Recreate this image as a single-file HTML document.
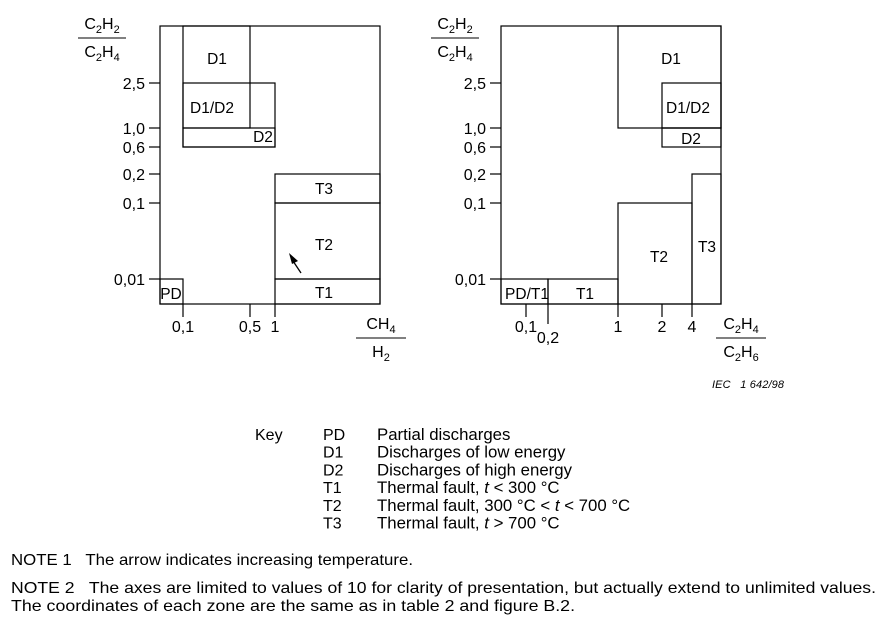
<!DOCTYPE html>
<html><head><meta charset="utf-8"><style>
body{margin:0;background:#fff;}
svg text{font-family:"Liberation Sans",sans-serif;fill:#000;white-space:pre;}
</style></head><body>
<svg id="fig" width="882" height="618" viewBox="0 0 882 618" xmlns="http://www.w3.org/2000/svg" xml:space="preserve"></svg>
<script>
// ---- data ----
const yTickValues = [2.5, 1.0, 0.6, 0.2, 0.1, 0.01];
const yTickLabels = ["2,5", "1,0", "0,6", "0,2", "0,1", "0,01"];
const leftXTickValues = [0.1, 0.5, 1];
const leftXTickLabels = ["0,1", "0,5", "1"];
const rightXTickValues = [0.1, 0.2, 1, 2, 4];
const rightXTickLabels = ["0,1", "0,2", "1", "2", "4"];
// zones: [x0, x1, y0, y1] in ratio units (0 = axis min, 10 = axis max)
const leftZoneNames = ["D1", "D1/D2", "D2", "T3", "T2", "T1", "PD"];
const leftZones = [[0.1,0.5,1.0,10],[0.1,1,0.6,2.5],[0.1,1,0.6,1.0],[1,10,0.1,0.2],[1,10,0.01,0.1],[1,10,0,0.01],[0,0.1,0,0.01]];
const rightZoneNames = ["D1", "D1/D2", "D2", "T3", "T2", "T1", "PD/T1"];
const rightZones = [[1,10,1.0,10],[2,10,1.0,2.5],[2,10,0.6,1.0],[4,10,0,0.2],[1,4,0,0.1],[0.2,1,0,0.01],[0,0.2,0,0.01]];

// ---- axis functions (piecewise mapping through ticks) ----
const yKnots=[[0,304],[0.01,279],[0.1,203],[0.2,174],[0.6,147],[1.0,128],[2.5,83],[10,26]];
function interp(k,v){for(let i=0;i<k.length-1;i++){if(v<=k[i+1][0]){const t=(v-k[i][0])/(k[i+1][0]-k[i][0]);return k[i][1]+t*(k[i+1][1]-k[i][1]);}}return k[k.length-1][1];}
const yS=v=>interp(yKnots,v);
const lxKnots=[[0,160],[0.1,183],[0.5,250],[1,275],[10,380]];
const rxKnots=[[0,501],[0.1,526],[0.2,548],[1,618],[2,662],[4,692],[10,721]];
const lxS=v=>interp(lxKnots,v), rxS=v=>interp(rxKnots,v);

const svg=document.getElementById('fig');
const NS="http://www.w3.org/2000/svg";
const FS=15.5;
function mk(tag,attrs,parent){const e=document.createElementNS(NS,tag);for(const k in attrs)e.setAttribute(k,attrs[k]);(parent||svg).appendChild(e);return e;}
function txt(x,y,s,size,parent,anchor){const t=mk('text',{x:x,y:y,'font-size':size||FS,'text-anchor':anchor||'middle'},parent);t.textContent=s;return t;}
function frac(x,y,top,bot,w,parent){
  const g=mk('g',{},parent);
  
  
  const a=mk('text',{x:x,y:y,'font-size':16,'text-anchor':'middle'},g);a.innerHTML=top;
  mk('line',{x1:x-w/2,x2:x+w/2,y1:y+9,y2:y+9,stroke:'#000','stroke-width':1},g);
  const b=mk('text',{x:x,y:y+28,'font-size':16,'text-anchor':'middle'},g);b.innerHTML=bot;
}
function chart(name,xS,xv,xl,zones,names,labelPos,xTitleTop,xTitleBot,xTitleX,yTitleX,longTick){
  const g=mk('g',{});
  
  
  const L=xS(0),R=xS(10),T=yS(10),B=yS(0);
  mk('rect',{x:L,y:T,width:R-L,height:B-T,fill:'none',stroke:'#000','stroke-width':1.2},g);
  yTickValues.forEach((v,i)=>{const y=yS(v);
    mk('line',{x1:L-11,x2:L,y1:y,y2:y,stroke:'#000','stroke-width':1.2},g);
    const t=txt(L-15,y+6,yTickLabels[i],16,g,'end');
    
    
  });
  xv.forEach((v,i)=>{const x=xS(v);const long=(longTick===i);
    mk('line',{x1:x,x2:x,y1:B,y2:B+(long?20:13),stroke:'#000','stroke-width':1.2},g);
    const t=txt(x,long?B+39:B+28,xl[i],16,g);
    
    
  });
  zones.forEach((z,i)=>{
    const r=mk('rect',{x:xS(z[0]),y:yS(z[3]),width:xS(z[1])-xS(z[0]),height:yS(z[2])-yS(z[3]),fill:'none',stroke:'#000','stroke-width':1.2},g);
    
    
    const p=labelPos[i];
    const t=txt(p[0],p[1],names[i],FS,g);
    
    
  });
  frac(yTitleX,29,'C<tspan font-size="11" dy="4">2</tspan><tspan dy="-4">H</tspan><tspan font-size="11" dy="4">2</tspan>','C<tspan font-size="11" dy="4">2</tspan><tspan dy="-4">H</tspan><tspan font-size="11" dy="4">4</tspan>',48,g);
  frac(xTitleX,329,xTitleTop,xTitleBot,50,g);
}
chart('left-chart',lxS,leftXTickValues,leftXTickLabels,leftZones,leftZoneNames,
  [[217,64],[212,113],[263,142],[324,194],[324,250],[324,298],[171,299]],
  'CH<tspan font-size="11" dy="4">4</tspan>','H<tspan font-size="11" dy="4">2</tspan>',381,102,-1);
chart('right-chart',rxS,rightXTickValues,rightXTickLabels,rightZones,rightZoneNames,
  [[671,64],[688,113],[691,144],[707,252],[659,262],[585,299],[527,299]],
  'C<tspan font-size="11" dy="4">2</tspan><tspan dy="-4">H</tspan><tspan font-size="11" dy="4">4</tspan>','C<tspan font-size="11" dy="4">2</tspan><tspan dy="-4">H</tspan><tspan font-size="11" dy="4">6</tspan>',741,455,1);

// arrow
const ar=mk('g',{});


mk('line',{x1:301,y1:273,x2:293,y2:261,stroke:'#000','stroke-width':1.3},ar);
mk('polygon',{points:'289,253 298,261 292,264',fill:'#000'},ar);

const iec=mk('text',{x:712,y:388,'font-size':11,textLength:72,lengthAdjust:'spacing','font-style':'italic'});
iec.textContent='IEC   1 642/98';



// key
const keyCodes=["PD","D1","D2","T1","T2","T3"];
const keyDesc=["Partial discharges","Discharges of low energy","Discharges of high energy",
 'Thermal fault, <tspan font-style="italic">t</tspan> &lt; 300 °C',
 'Thermal fault, 300 °C &lt; <tspan font-style="italic">t</tspan> &lt; 700 °C',
 'Thermal fault, <tspan font-style="italic">t</tspan> &gt; 700 °C'];
const kg=mk('g',{});


txt(255,440,'Key',16,kg,'start');
keyCodes.forEach((c,i)=>{const y=440+i*17.7;
  const a=txt(323,y,c,16,kg,'start');
  
  
  const b=mk('text',{x:377,y:y,'font-size':16.8},kg);b.innerHTML=keyDesc[i];
  
  
});
const n1=mk('text',{x:11,y:565,'font-size':16,textLength:402,lengthAdjust:'spacingAndGlyphs'});
n1.textContent='NOTE 1   The arrow indicates increasing temperature.';


const n2=mk('text',{x:11,y:593,'font-size':16,textLength:865,lengthAdjust:'spacingAndGlyphs'});
n2.textContent='NOTE 2   The axes are limited to values of 10 for clarity of presentation, but actually extend to unlimited values.';


const n3=mk('text',{x:11,y:611,'font-size':16,textLength:564,lengthAdjust:'spacingAndGlyphs'});
n3.textContent='The coordinates of each zone are the same as in table 2 and figure B.2.';


</script>
</body></html>
